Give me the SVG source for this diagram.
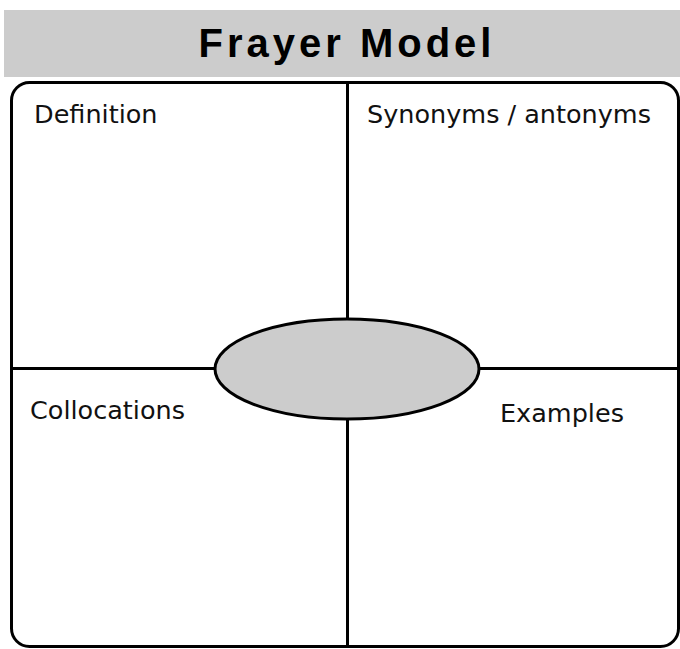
<svg xmlns="http://www.w3.org/2000/svg" width="680" height="649" viewBox="0 0 680 649">
<style>
.lbl{font-family:"DejaVu Sans",sans-serif;font-size:25.5px;fill:#111}
.ln{stroke:#000;stroke-width:3;fill:none}
</style>
<rect width="680" height="649" fill="#fff"/>
<g id="header">
<rect x="4" y="10" width="676" height="67" fill="#cccccc"/>
<text x="347" y="57" text-anchor="middle" font-family="Liberation Sans, Arial, sans-serif" font-weight="bold" font-size="40" letter-spacing="4" fill="#000">Frayer Model</text>
</g>
<g id="connectors">
<rect class="ln" x="11.5" y="82.5" width="667" height="564" rx="18"/>
<line class="ln" x1="347.5" y1="82" x2="347.5" y2="648"/>
<line class="ln" x1="11" y1="368.5" x2="679" y2="368.5"/>
</g>
<g id="center">
<ellipse cx="347" cy="369" rx="132" ry="50" fill="#cccccc" stroke="#000" stroke-width="3"/>
</g>
<g id="definition"><text class="lbl" x="34" y="123">Definition</text></g>
<g id="synonyms"><text class="lbl" x="367" y="123">Synonyms / antonyms</text></g>
<g id="collocations"><text class="lbl" x="30" y="419">Collocations</text></g>
<g id="examples"><text class="lbl" x="500" y="422">Examples</text></g>
</svg>
